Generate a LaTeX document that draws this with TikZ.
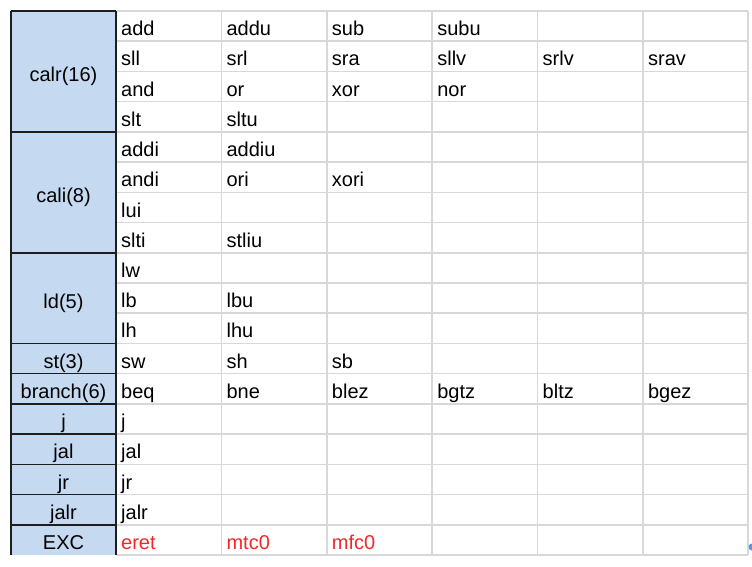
\documentclass[tikz,border=0pt]{standalone}
\usepackage{fontspec}
\setmainfont{Liberation Sans}
\definecolor{hdrblue}{RGB}{197,217,241}
\definecolor{gridgray}{RGB}{216,216,216}
\definecolor{darkline}{RGB}{30,30,30}
\definecolor{excred}{RGB}{240,40,40}
\definecolor{handle}{RGB}{90,150,230}
\begin{document}
\begin{tikzpicture}[x=1pt,y=-1pt,
  cell/.style={anchor=base west,inner sep=0pt,font=\fontsize{20}{22}\selectfont},
  redcell/.style={cell,text=excred},
  hdr/.style={anchor=base,inner sep=0pt,font=\fontsize{20}{22}\selectfont},
  grid/.style={draw=gridgray,line width=1.6pt},
  dark/.style={draw=darkline,line width=1.6pt}]
\useasboundingbox (0,0) rectangle (752,566);
\pgfmathsetmacro{\rh}{30.222}
\pgfmathsetmacro{\cw}{105.38}
% left column fill
\fill[hdrblue] (11,11) rectangle (116,555);
% grid lines
\foreach \i in {0,...,18}{
  \draw[grid] (116,{11+\i*\rh}) -- (748.3,{11+\i*\rh});
}
\foreach \k in {1,...,6}{
  \draw[grid] ({116+\k*\cw},11) -- ({116+\k*\cw},555);
}
% dark borders of the header column
\draw[dark] (11,11) -- (11,555);
\draw[dark] (116,11) -- (116,555);
\foreach \i in {0,4,8,11,12,13,14,15,16,17}{
  \draw[dark] (11,{11+\i*\rh}) -- (116,{11+\i*\rh});
}
% header labels
\node[hdr] (calr) at (63.5,{11+2*\rh+10.5}) {calr(16)};
\node[hdr] (cali) at (63.5,{11+6*\rh+10.5}) {cali(8)};
\node[hdr] (ld) at (63.5,{11+9.5*\rh+10.5}) {ld(5)};
\node[hdr] (st) at (63.5,{11+12*\rh-5.5}) {st(3)};
\node[hdr] (branch) at (63.5,{11+13*\rh-5.5}) {branch(6)};
\node[hdr] (jj) at (63.5,{11+14*\rh-5.5}) {j};
\node[hdr] (jjal) at (63.5,{11+15*\rh-5.5}) {jal};
\node[hdr] (jjr) at (63.5,{11+16*\rh-5.5}) {jr};
\node[hdr] (jjalr) at (63.5,{11+17*\rh-5.5}) {jalr};
\node[hdr] (exc) at (63.5,{11+18*\rh-5.5}) {EXC};
% data cells
\foreach \r/\lst in {0/{add,addu,sub,subu},
  1/{sll,srl,sra,sllv,srlv,srav},
  2/{and,or,xor,nor},
  3/{slt,sltu},
  4/{addi,addiu},
  5/{andi,ori,xori},
  6/{lui},
  7/{slti,stliu},
  8/{lw},
  9/{lb,lbu},
  10/{lh,lhu},
  11/{sw,sh,sb},
  12/{beq,bne,blez,bgtz,bltz,bgez},
  13/{j},
  14/{jal},
  15/{jr},
  16/{jalr}}{
  \foreach \t [count=\c from 0] in \lst {
    \node[cell] (d\r-\c) at ({116+\c*\cw+5},{11+(\r+1)*\rh-5.5}) {\t};
  }
}
\foreach \t [count=\c from 0] in {eret,mtc0,mfc0}{
  \node[redcell] (d17-\c) at ({116+\c*\cw+5},{11+18*\rh-5.5}) {\t};
}
% selection handle
\begin{scope}
\clip (0,0) rectangle (752,566);
\fill[handle] (752,547) circle (3.5);
\end{scope}
\end{tikzpicture}
\end{document}
